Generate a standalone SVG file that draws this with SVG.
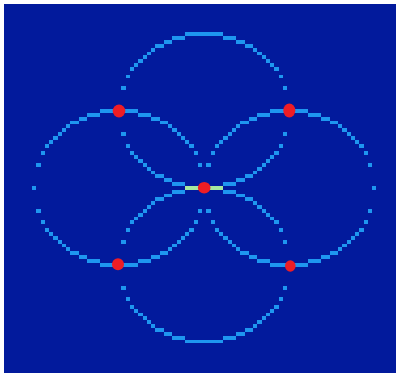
<svg xmlns="http://www.w3.org/2000/svg" xmlns:xlink="http://www.w3.org/1999/xlink" width="396" height="373" viewBox="0 0 396 373">
<style>
.cell{fill:#1E96F0}
.both{fill:#A6E8A0}
.pt{fill:#EE1D25}
</style>
<defs>
<g id="ring" class="cell">
<rect x="-4" y="-20" width="9" height="1"/>
<rect x="5" y="-19" width="3" height="1"/><rect x="-7" y="-19" width="3" height="1"/>
<rect x="8" y="-18" width="2" height="1"/><rect x="-9" y="-18" width="2" height="1"/>
<rect x="10" y="-17" width="2" height="1"/><rect x="-11" y="-17" width="2" height="1"/>
<rect x="12" y="-16" width="1" height="1"/><rect x="-12" y="-16" width="1" height="1"/>
<rect x="13" y="-15" width="1" height="1"/><rect x="-13" y="-15" width="1" height="1"/>
<rect x="14" y="-14" width="1" height="1"/><rect x="-14" y="-14" width="1" height="1"/>
<rect x="15" y="-13" width="1" height="1"/><rect x="-15" y="-13" width="1" height="1"/>
<rect x="16" y="-12" width="1" height="1"/><rect x="-16" y="-12" width="1" height="1"/>
<rect x="17" y="-11" width="1" height="1"/><rect x="-17" y="-11" width="1" height="1"/>
<rect x="18" y="-9" width="1" height="1"/><rect x="-18" y="-9" width="1" height="1"/>
<rect x="19" y="-6" width="1" height="1"/><rect x="-19" y="-6" width="1" height="1"/>
<rect x="20" y="0" width="1" height="1"/><rect x="-20" y="0" width="1" height="1"/>
<rect x="19" y="6" width="1" height="1"/><rect x="-19" y="6" width="1" height="1"/>
<rect x="18" y="9" width="1" height="1"/><rect x="-18" y="9" width="1" height="1"/>
<rect x="17" y="11" width="1" height="1"/><rect x="-17" y="11" width="1" height="1"/>
<rect x="16" y="12" width="1" height="1"/><rect x="-16" y="12" width="1" height="1"/>
<rect x="15" y="13" width="1" height="1"/><rect x="-15" y="13" width="1" height="1"/>
<rect x="14" y="14" width="1" height="1"/><rect x="-14" y="14" width="1" height="1"/>
<rect x="13" y="15" width="1" height="1"/><rect x="-13" y="15" width="1" height="1"/>
<rect x="12" y="16" width="1" height="1"/><rect x="-12" y="16" width="1" height="1"/>
<rect x="10" y="17" width="2" height="1"/><rect x="-11" y="17" width="2" height="1"/>
<rect x="8" y="18" width="2" height="1"/><rect x="-9" y="18" width="2" height="1"/>
<rect x="5" y="19" width="3" height="1"/><rect x="-7" y="19" width="3" height="1"/>
<rect x="-4" y="20" width="9" height="1"/>
</g>
</defs>
<rect x="0" y="0" width="396" height="373" fill="#FFFFFF"/>
<rect x="4" y="4" width="392" height="369" fill="#021A9C"/>
<g id="grid" transform="translate(32,32.3) scale(4.25,3.84)" shape-rendering="crispEdges">
<g id="circle-top"><use xlink:href="#ring" x="40" y="20"/></g>
<g id="circle-left"><use xlink:href="#ring" x="20" y="40"/></g>
<g id="circle-right"><use xlink:href="#ring" x="60" y="40"/></g>
<g id="circle-bottom"><use xlink:href="#ring" x="40" y="60"/></g>
<rect id="overlap" class="both" x="36" y="40" width="9" height="1"/>
</g>
<g id="points">
<ellipse id="p-tl" class="pt" cx="119" cy="111" rx="6.3" ry="6.5"/>
<ellipse id="p-tr" class="pt" cx="289.3" cy="110.5" rx="6" ry="7"/>
<ellipse id="p-bl" class="pt" cx="118" cy="264.3" rx="6" ry="6"/>
<ellipse id="p-br" class="pt" cx="290.3" cy="266" rx="5.3" ry="5.7"/>
<ellipse id="p-c" class="pt" cx="204.2" cy="187.7" rx="6.3" ry="5.8"/>
</g>
</svg>
